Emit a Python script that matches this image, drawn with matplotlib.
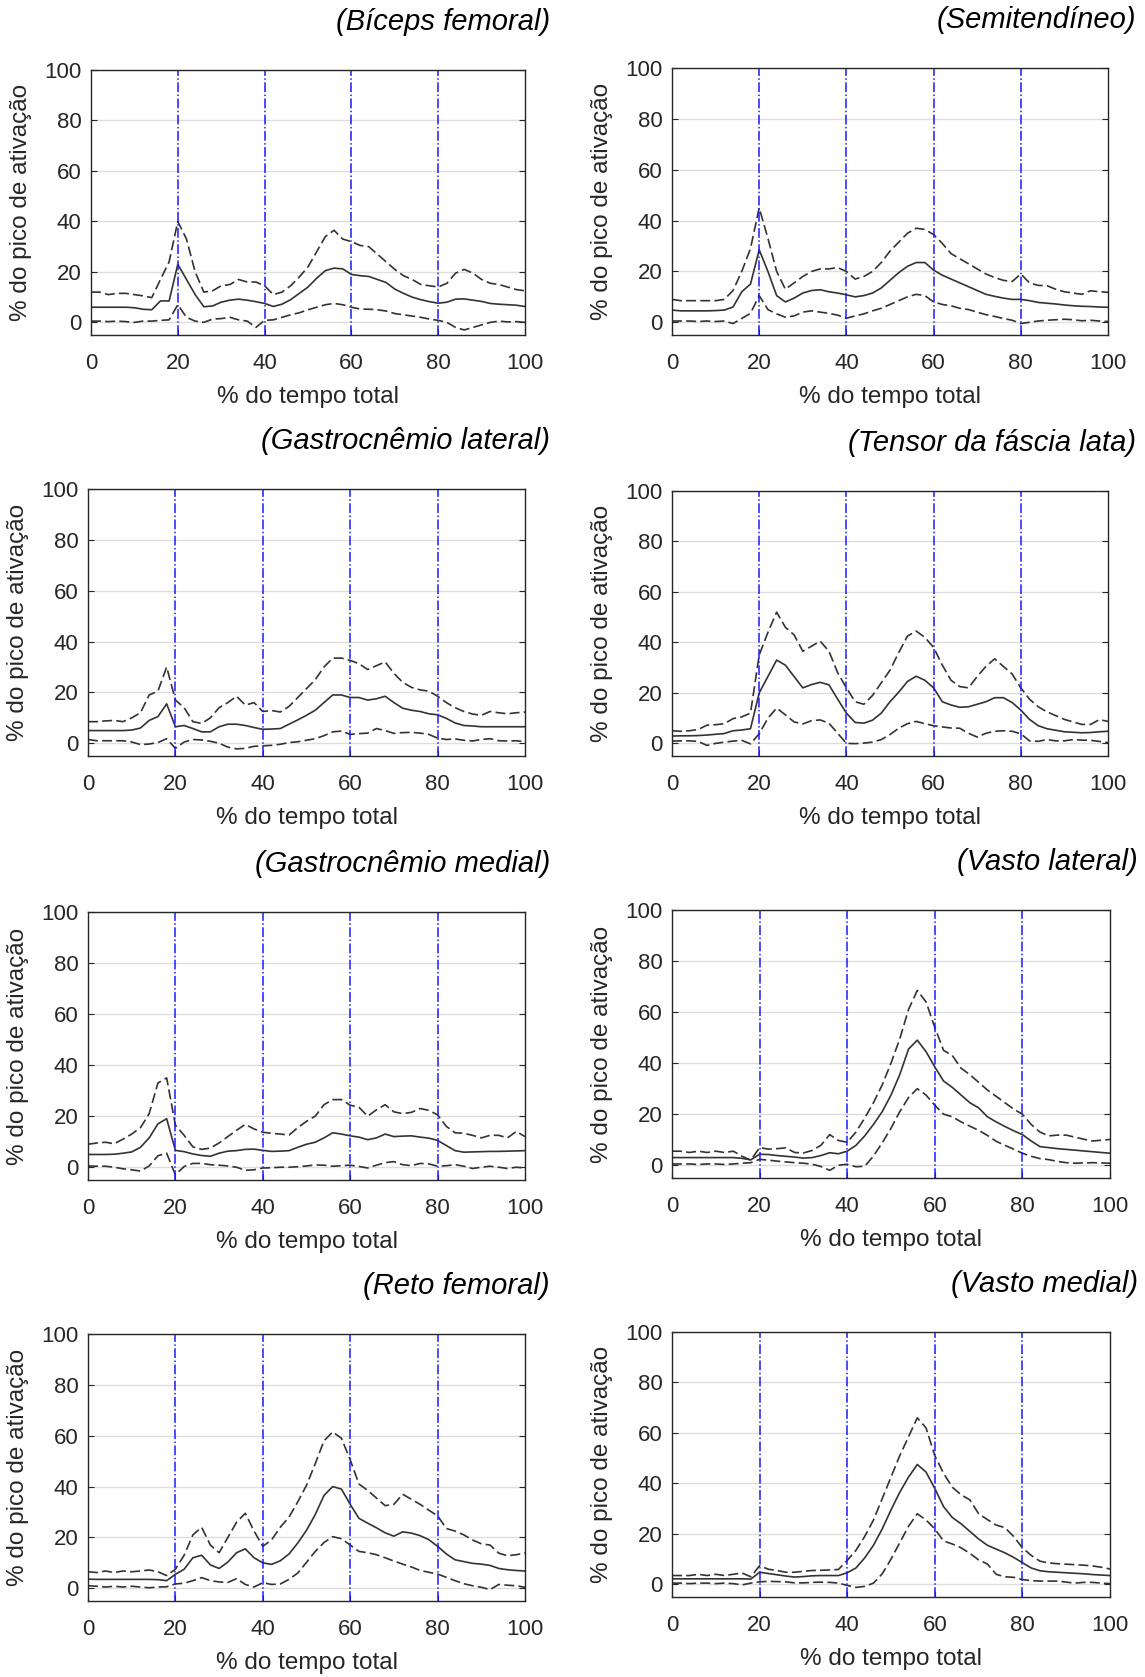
import numpy as np
import matplotlib.pyplot as plt

# time axis, % of total time (values read every 2 %)
T = np.arange(0, 101, 2)

TITLES = ['(Bíceps femoral)', '(Semitendíneo)',
          '(Gastrocnêmio lateral)', '(Tensor da fáscia lata)',
          '(Gastrocnêmio medial)', '(Vasto lateral)',
          '(Reto femoral)', '(Vasto medial)']
PHASES = [20, 40, 60, 80]

BF_MEAN = [6, 6, 6, 6, 6, 5.8, 5.2, 5, 8.5, 8.5, 23, 17, 11, 6.2, 6.5, 8, 8.8, 9.2, 8.8, 8.2,
           7.5, 6.3, 7.2, 9, 11.5, 14, 17.5, 20.5, 21.5, 21.2, 19, 18.5, 18.2, 17, 15.8, 13.2,
           11.5, 10, 9, 8.2, 7.6, 8, 9.2, 9.3, 8.8, 8.3, 7.5, 7.2, 7, 6.8, 6.3]
BF_UP = [12, 12, 11, 11.5, 11.5, 11, 10.5, 9.8, 17, 24, 40, 33, 20, 12, 12.5, 14.5, 15, 17, 16, 16,
         14.5, 11, 12, 14.5, 18, 22, 28, 34, 36.5, 33, 32, 30.5, 30, 27, 24, 21, 18.5, 17, 15, 14.5,
         14, 15.5, 19.5, 21, 19.5, 17, 15.5, 15, 14, 13, 12.5]
BF_LO = [0.5, 0.5, 0.3, 0.5, 0.3, 0, 0.5, 0.5, 0.8, 1, 7, 2, 0.5, 0, 1.3, 1.5, 2, 1, 0.5, -2,
         0.8, 1, 2, 3, 3.8, 5, 6, 7, 7.5, 7, 6, 5.3, 5.2, 5, 4.5, 3.5, 3, 2.5, 2, 1.3,
         0.8, 0, -2, -3, -2, -1, 0, 0.5, 0.2, 0.3, 0]

ST_MEAN = [4.8, 4.5, 4.5, 4.5, 4.5, 4.6, 4.8, 6, 12, 15, 28.5, 20, 10.5, 8, 9.5, 11.5, 12.5, 12.8,
           12, 11.5, 10.8, 10, 10.5, 11.5, 13.5, 16.5, 19.5, 22, 23.5, 23.5, 20.5, 18.5, 17, 15.5,
           14, 12.5, 11, 10.2, 9.5, 9, 9, 8.5, 7.8, 7.5, 7.2, 6.8, 6.5, 6.3, 6.2, 6, 5.9]
ST_UP = [9, 8.5, 8.5, 8.5, 8.5, 8.5, 9, 12.5, 20, 29, 45, 33, 20, 13, 15.5, 18, 20, 21, 21, 21.5,
         20, 17, 18, 20, 23.5, 28, 31.5, 35, 37, 36.5, 34.5, 31, 27, 25, 23, 21, 19, 17.6, 16.5, 16,
         19, 15.5, 14.5, 14.4, 13, 12, 11.5, 11, 12.4, 12, 11.8]
ST_LO = [0.5, 0.5, 0.5, 0.3, 0.5, 0.3, 0.5, -0.5, 1.5, 3.5, 10.5, 5, 3.3, 2, 2.5, 4, 4.5, 4, 3.5,
         2.8, 1.6, 2.5, 3.3, 4.5, 5.5, 7, 8.5, 10, 11, 10.5, 8, 7, 6.5, 5.5, 5, 4, 3, 2.3, 1.5, 0.8,
         -0.5, 0, 0.5, 0.8, 1, 1.2, 1, 0.6, 0.8, 0.5, 0.3]

GL_MEAN = [5, 5, 5, 5, 5, 5.2, 6, 9, 10.5, 15.5, 6.5, 7, 5.8, 4.5, 4.5, 6.5, 7.5, 7.5, 7, 6.2,
           5.5, 5.6, 5.8, 7.5, 9.2, 11, 13, 16, 19, 19, 18, 18, 17, 17.5, 18.5, 16, 13.8, 13, 12.5,
           11.6, 11.2, 9.8, 8, 7, 6.8, 6.5, 6.5, 6.5, 6.5, 6.5, 6.5]
GL_UP = [8.5, 8.5, 8.8, 9, 8.5, 10, 12, 19, 20.5, 30, 17, 14, 8.5, 7.8, 10, 14, 16, 18.5, 15, 16,
         12.5, 12.9, 12.3, 14.5, 18, 21.5, 25, 30, 33.5, 33.5, 32.6, 31.3, 29, 30.5, 32, 27.5, 24,
         22, 21, 20.5, 18.5, 16, 14, 12.5, 11.5, 11, 12.5, 12, 11.6, 12, 12.3]
GL_LO = [1.5, 1, 1, 1, 1, 0.5, -0.5, -0.3, 0.3, 1.8, -2, 0.5, 1.5, 1.3, 0.8, 0, -1.5, -2.2, -2,
         -1.2, -1, -0.8, -0.4, 0.3, 0.6, 1.2, 1.8, 3, 4.5, 4.8, 3.5, 3.8, 4, 5.8, 5, 3.9, 4.2, 4.3,
         4, 3.5, 2, 1.5, 1.7, 1.2, 0.9, 1.5, 1.8, 1, 0.9, 1, 0.6]

TFL_MEAN = [2.9, 3, 3, 3.1, 3.3, 3.6, 3.9, 5, 5.3, 5.8, 20, 26.5, 33, 31, 26.5, 22, 23.3, 24.2,
            23.2, 17.5, 12, 8.3, 8, 9.2, 12, 16.5, 20.3, 24.5, 26.6, 25, 22, 16.5, 15.2, 14.3,
            14.5, 15.5, 16.5, 18.1, 18.1, 16.2, 13.2, 9.5, 7, 5.8, 5.2, 4.6, 4.4, 4.2, 4.3, 4.6, 4.8]
TFL_UP = [5, 4.8, 5, 5.5, 7.2, 7.4, 7.8, 9.8, 10.5, 12, 35, 44, 52, 46, 43, 36.5, 38.5, 40.5,
          36.5, 28, 22, 16.5, 15.5, 19, 24, 29, 36, 42.5, 44.5, 42, 38, 31, 25, 22.5, 22, 26.5,
          30.5, 33.5, 30.5, 27.5, 22, 17.5, 14.5, 12.5, 11, 9.5, 8.5, 7.5, 7.5, 9.4, 8.7]
TFL_LO = [0.9, 1, 1, 0.8, -0.8, 0, 0.5, 0.9, 1.2, -0.2, 3.8, 10, 14, 11.3, 8.5, 7.7, 9, 9.3, 8, 4,
          0, -0.1, 0.1, 0.5, 1.5, 3.5, 6, 7.8, 8.7, 7.8, 7, 6.5, 6.1, 6, 4, 2.5, 4, 4.8, 5, 4.8,
          3.8, 1, 0.8, 1.5, 1, 1, 1.5, 1.3, 1.2, 0.8, 0.3]

GM_MEAN = [5, 5, 5, 5.1, 5.5, 6, 7.8, 11.5, 17, 19, 6.6, 6.1, 5.2, 4.6, 4.3, 5.5, 6.3, 6.5, 7, 7.1,
           6.6, 6.2, 6.3, 6.5, 7.8, 9, 9.8, 11.5, 13.5, 13, 12.3, 11.8, 10.8, 11.5, 13, 12, 12.2,
           12.3, 11.8, 11.4, 10.5, 8.5, 6.5, 5.9, 6, 6.1, 6.2, 6.2, 6.3, 6.4, 6.5]
GM_UP = [9, 9.5, 9.8, 9.2, 11, 13, 15.5, 21, 33, 35, 16.5, 12.5, 8, 7, 7.5, 9.5, 12, 14.5, 16.8,
         15, 13.7, 13.3, 13, 12.6, 15.5, 18, 20, 24.5, 26.5, 26.5, 24.3, 23.5, 20, 22.5, 24.5, 21.7,
         21, 21.5, 23, 22.3, 20.5, 16, 13.5, 13.3, 12.5, 11.5, 12.5, 12.5, 11.5, 14, 12]
GM_LO = [0.5, 0.4, 0.4, 0, -0.6, -1, -1.5, 0.5, 4.5, 5.5, -3, 0.3, 1.5, 1.5, 1, 0.8, 0.5, 0, -1.2,
         -1, -0.3, -0.2, 0, 0, 0.2, 0.5, 0.9, 0.8, 0.4, 0.6, 0.8, 0.3, -0.3, 0.8, 1.8, 2.2, 1, 0.6,
         1.5, 1.3, 0.4, 0.6, 1, 0.4, -0.5, 0, 0.4, 0, -0.5, 0, -0.3]

VL_MEAN = [3, 3, 3, 3, 3, 3, 3, 3, 2.7, 2.1, 4.3, 4.2, 3.8, 3.5, 3.2, 2.8, 3, 3.8, 4.9, 4.5, 5.5,
           7.8, 11.5, 16, 21, 27.5, 35.5, 45.5, 49, 44.5, 38.5, 33, 30.5, 27.5, 24.5, 22.5, 19, 17,
           15.2, 13.5, 12, 9.5, 7.3, 6.9, 6.5, 6.2, 5.9, 5.6, 5.3, 5, 4.7]
VL_UP = [5.5, 5.5, 5, 5.5, 5, 5.5, 5, 5.5, 3.5, 2, 6.9, 6.3, 6.5, 6.8, 5, 4.8, 5.8, 7.8, 12, 9.7,
         9, 13, 18.5, 24.5, 31.5, 40, 49.5, 61, 68.5, 64, 54, 45, 43, 38, 35.5, 32.5, 29.5, 27,
         24.5, 22, 20, 16, 13, 11.5, 11.8, 11.8, 11, 10.2, 9.5, 9.8, 10.1]
VL_LO = [0.5, 0.5, 0.5, 0.3, 0.5, 0.5, 0.3, 0.5, 0.8, 1, 2.3, 2, 1.6, 1.3, 1, 0.8, 0.4, -0.5, -2,
         0, 0.4, -0.6, -0.4, 3.6, 8.8, 14.5, 21, 26.5, 30, 27.5, 23.5, 20, 19, 17, 15.3, 13.7, 11.7,
         9.4, 7.8, 6.3, 4.7, 3.5, 2.6, 2.2, 1.5, 1, 0.8, 0.9, 1, 0.9, 0.8]

RF_MEAN = [3.6, 3.5, 3.5, 3.5, 3.5, 3.5, 3.5, 3.5, 3.4, 3, 5.5, 7.5, 12, 13, 9.2, 7.8, 10.3, 14,
           15.5, 12, 10, 9.4, 10.8, 13.5, 17.8, 22.8, 29, 36.5, 40, 39, 33, 27.5, 25.6, 23.8, 21.8,
           20.5, 22.2, 21.7, 20.7, 19.1, 16.5, 13.5, 11.2, 10.5, 9.8, 9.5, 9, 7.8, 7.3, 7, 6.8]
RF_UP = [6.5, 6.2, 6.8, 6.2, 6.8, 6.5, 6.8, 7.2, 6.5, 5, 7.5, 13, 21, 24, 17, 14, 20, 26, 29.5,
         22.5, 16.5, 19, 24, 28, 34, 40.5, 49, 58, 61.5, 59, 50.5, 41, 38.5, 35.5, 32.5, 33, 37,
         35, 33, 30.7, 28.5, 23.5, 22.5, 21, 19, 17.5, 17, 13.8, 12.8, 13.2, 13.9]
RF_LO = [1, 0.8, 0.5, 0.8, 0.5, 0.8, 0.5, 0.2, 0.5, 0.6, 1.7, 2, 3, 4.2, 3, 2.5, 2.3, 3.8, 1.5,
         0.5, 2.2, 1.5, 1.7, 3.5, 6, 10.2, 14.5, 18, 20.3, 19.5, 17, 14.5, 14, 13.2, 12, 10.7, 9.5,
         8.4, 7, 6.3, 5.6, 4.3, 3, 1.8, 1, 0.4, -0.5, 1.5, 1.2, 1, 0.4]

VM_MEAN = [2.2, 2.2, 2.2, 2.2, 2.2, 2.2, 2.2, 2.2, 2.2, 2.1, 4.8, 4.3, 3.8, 3.3, 2.9, 3.1, 3.4,
           3.5, 3.5, 3.5, 4.6, 6.5, 10.5, 15.5, 22, 29.5, 36.5, 42.5, 47.5, 44.5, 38, 30.8, 26.5,
           24, 21, 18, 15.5, 14, 12.5, 10.7, 8.6, 6.5, 5.4, 5, 4.8, 4.6, 4.4, 4.2, 3.9, 3.7, 3.5]
VM_UP = [3.5, 3.5, 3.5, 4, 3.5, 4, 3.5, 4, 4.5, 3, 7.4, 6, 5.5, 4.8, 4.8, 5.2, 5.5, 5.6, 5.7, 5.9,
         9.5, 13.5, 19, 25.5, 34, 42.5, 51, 58.5, 66, 62, 51, 44, 38.5, 35.5, 33.5, 28, 25.7, 23.5,
         22.5, 19, 14.5, 11.5, 9.2, 8.5, 8.2, 8, 7.8, 7.6, 7.3, 6.8, 6.1]
VM_LO = [0.5, 0.5, 0.3, 0.5, 0.5, 0.3, 0.5, 0.3, -0.2, 0.5, 1, 1.2, 1.1, 1, 0.6, 0.6, 0.8, 0.9,
         0.8, 0.5, -0.4, -1.2, -0.8, 0.5, 4.2, 10, 16.5, 23, 28, 25.5, 22, 17.2, 16, 14.5, 12.3,
         9.7, 8.1, 4, 3, 2.8, 1.9, 1.5, 1.3, 1.3, 1.3, 0.9, 0.5, 0.8, 0.8, 0.5, 0.3]

MEANS = [BF_MEAN, ST_MEAN, GL_MEAN, TFL_MEAN, GM_MEAN, VL_MEAN, RF_MEAN, VM_MEAN]
UPPER = [BF_UP, ST_UP, GL_UP, TFL_UP, GM_UP, VL_UP, RF_UP, VM_UP]
LOWER = [BF_LO, ST_LO, GL_LO, TFL_LO, GM_LO, VL_LO, RF_LO, VM_LO]

W, H = 1145, 1677
# axes boxes in pixels: left, top, right, bottom
BOXES = [(91, 70, 525, 335), (672, 68, 1108, 335),
         (88, 489, 525, 756), (672, 491, 1108, 756),
         (88, 912, 525, 1180), (672, 910, 1110, 1178),
         (88, 1334, 525, 1601), (672, 1332, 1110, 1597)]

plt.rcParams['font.family'] = ['Liberation Sans', 'DejaVu Sans']
TXT = '#262626'

fig = plt.figure(figsize=(W / 100, H / 100), dpi=100)

for i, (l, t, r, b) in enumerate(BOXES):
    ax = fig.add_axes([l / W, 1 - b / H, (r - l) / W, (b - t) / H])
    ax.plot(T, UPPER[i], color='#333333', lw=1.2, dashes=(6, 2.5))
    ax.plot(T, LOWER[i], color='#333333', lw=1.2, dashes=(6, 2.5))
    ax.plot(T, MEANS[i], color='#333333', lw=1.2)
    for p in PHASES:
        ax.axvline(p, color='#1a1aff', lw=1.1, ls='-.')

    ax.set_xlim(0, 100)
    ax.set_ylim(-5, 100)
    ax.set_xticks([0, 20, 40, 60, 80, 100])
    ax.set_yticks([0, 20, 40, 60, 80, 100])
    ax.yaxis.grid(True, color='#dedede', lw=1)
    ax.set_axisbelow(True)
    ax.tick_params(direction='in', length=4, width=0.8, color=TXT,
                   labelcolor=TXT, labelsize=16, right=True, top=False)
    ax.tick_params(axis='x', pad=13)
    ax.tick_params(axis='y', pad=7)
    for s in ax.spines.values():
        s.set_color(TXT)
        s.set_linewidth(1)

    right_col = i % 2 == 1
    fig.text((r + (28 if right_col else 25)) / W, 1 - (t - 48) / H, TITLES[i],
             ha='right', va='center', fontsize=21, style='italic', color='black')
    fig.text((l + r) / 2 / W, 1 - (b + 62) / H, '% do tempo total',
             ha='center', va='center', fontsize=17.5, color=TXT)
    fig.text((l - 70) / W, 1 - (t + b) / 2 / H, '% do pico de ativação',
             ha='center', va='center', rotation=90, fontsize=17.5, color=TXT)

fig.savefig('out.png', dpi=100)
